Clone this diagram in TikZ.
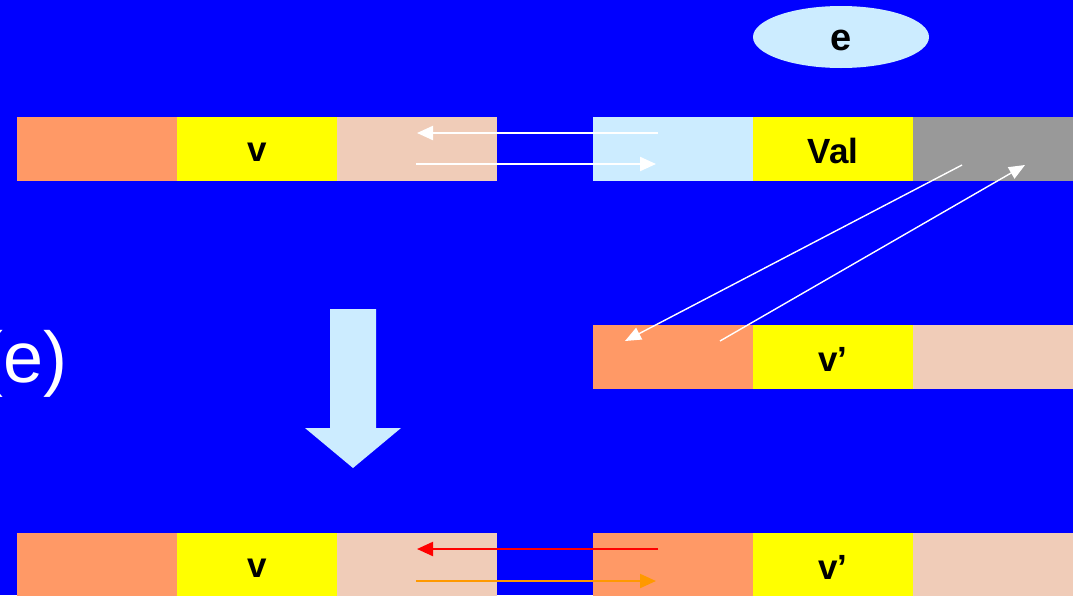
\documentclass[tikz,border=0pt]{standalone}
\usepackage{fontspec}
\setmainfont{Liberation Sans}
\usetikzlibrary{arrows.meta,shapes.geometric}
\definecolor{bgblue}{RGB}{0,0,255}
\definecolor{salmon}{RGB}{255,153,102}
\definecolor{pinkc}{RGB}{240,204,184}
\definecolor{lblue}{RGB}{204,236,255}
\definecolor{grayc}{RGB}{153,153,153}
\definecolor{yel}{RGB}{255,255,0}
\definecolor{orangec}{RGB}{255,153,0}
\begin{document}
\begin{tikzpicture}[x=1pt,y=-1pt,
  cell/.style={minimum width=160pt,minimum height=64pt,inner sep=0pt,outer sep=0pt,anchor=north west},
  lab/.style={font=\bfseries\fontsize{35}{35}\selectfont,inner sep=0pt},
  arr/.style={line width=2.2pt,-{Triangle[length=16pt,width=14pt]}},
  darr/.style={line width=1.4pt,-{Triangle[length=16pt,width=13pt]}}]
\useasboundingbox (0,0) rectangle (1073,595);
\clip (0,0) rectangle (1073,595);
\fill[bgblue] (0,0) rectangle (1073,595);
% ellipse
\node[ellipse,fill=lblue,minimum width=176pt,minimum height=62pt,inner sep=0pt] (e) at (841,37) {};
\node[lab,font=\bfseries\fontsize{38}{38}\selectfont] (el) at (841,40) {e};
% row 1
\node[cell,fill=salmon] (a1) at (17,117) {};
\node[cell,fill=yel] (a2) at (177,117) {};
\node[cell,fill=pinkc] (a3) at (337,117) {};
\node[cell,fill=lblue] (b1) at (593,117) {};
\node[cell,fill=yel] (b2) at (753,117) {};
\node[cell,fill=grayc] (b3) at (913,117) {};
% row 2
\node[cell,fill=salmon] (c1) at (593,325) {};
\node[cell,fill=yel] (c2) at (753,325) {};
\node[cell,fill=pinkc] (c3) at (913,325) {};
% row 3
\node[cell,fill=salmon] (d1) at (17,533) {};
\node[cell,fill=yel] (d2) at (177,533) {};
\node[cell,fill=pinkc] (d3) at (337,533) {};
\node[cell,fill=salmon] (f1) at (593,533) {};
\node[cell,fill=yel] (f2) at (753,533) {};
\node[cell,fill=pinkc] (f3) at (913,533) {};
% labels
\node[lab] (l1) at ([yshift=-3pt]a2.center) {v};
\node[lab] (l2) at ([yshift=-2pt]b2.center) {Val};
\node[lab] (l3) at ([yshift=-2pt]c2.center) {v’};
\node[lab] (l4) at ([yshift=-3pt]d2.center) {v};
\node[lab] (l5) at ([yshift=-2pt]f2.center) {v’};
% coordinates for connectors
\coordinate (p1) at (658,133); \coordinate (q1) at (417,133);
\coordinate (p2) at (416,164); \coordinate (q2) at (656,164);
\coordinate (p3) at (962,165); \coordinate (q3) at (625,341);
\coordinate (p4) at (720,341); \coordinate (q4) at (1025,165);
\coordinate (p5) at (658,549); \coordinate (q5) at (417,549);
\coordinate (p6) at (416,581); \coordinate (q6) at (656,581);
\draw[arr,white] (p1) -- (q1);
\draw[arr,white] (p2) -- (q2);
\draw[darr,white] (p3) -- (q3);
\draw[darr,white] (p4) -- (q4);
\draw[arr,red] (p5) -- (q5);
\draw[arr,orangec] (p6) -- (q6);
% big down arrow
\fill[lblue] (330,309) -- (376,309) -- (376,428) -- (401,428) -- (353,468) -- (305,428) -- (330,428) -- cycle;
% clipped text
\node[anchor=east,text=white,inner sep=0pt,font=\fontsize{72}{72}\selectfont] (t) at (68,364) {(e)};
\end{tikzpicture}
\end{document}
